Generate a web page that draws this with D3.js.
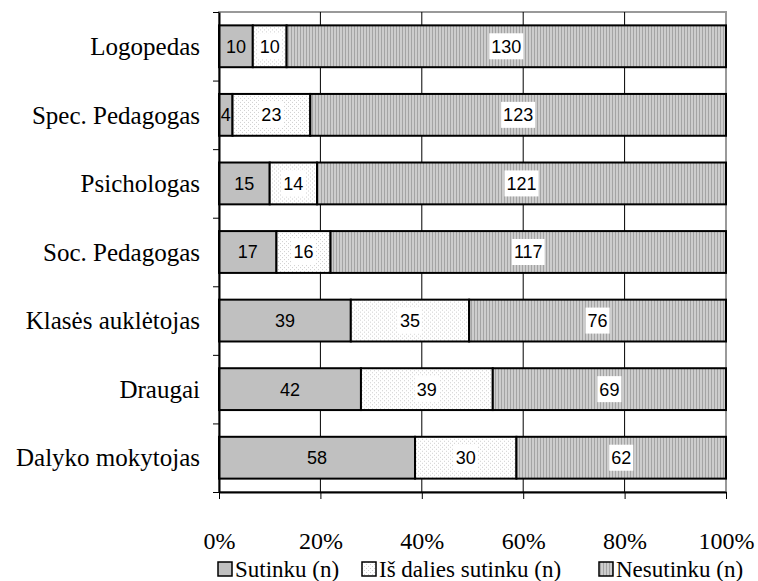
<!DOCTYPE html>
<html>
<head>
<meta charset="utf-8">
<script src="https://cdn.jsdelivr.net/npm/d3@7"></script>
<style>
  body { margin: 0; background: #fff; }
  svg { display: block; }
</style>
</head>
<body>
<div id="chart"></div>
<script>
const categories = ["Logopedas", "Spec. Pedagogas", "Psichologas", "Soc. Pedagogas", "Klasės auklėtojas", "Draugai", "Dalyko mokytojas"]
const sutinku = [10, 4, 15, 17, 39, 42, 58]
const isDalies = [10, 23, 14, 16, 35, 39, 30]
const nesutinku = [130, 123, 121, 117, 76, 69, 62]
const seriesNames = ["Sutinku (n)", "Iš dalies sutinku (n)", "Nesutinku (n)"]
const xTicks = [0, 0.2, 0.4, 0.6, 0.8, 1]

const width = 758, height = 581
const plotLeft = 219, plotRight = 726, plotTop = 12, plotBottom = 492

var svg = d3.select("#chart").append("svg")
    .attr("width", width)
    .attr("height", height)

// patterns
var defs = svg.append("defs")
var dots = defs.append("pattern").attr("id", "dots")
    .attr("patternUnits", "userSpaceOnUse").attr("width", 4).attr("height", 4)
dots.append("rect").attr("width", 4).attr("height", 4).attr("fill", "#fff")
dots.append("rect").attr("x", 0).attr("y", 0).attr("width", 1).attr("height", 1).attr("fill", "#cfcfcf")
dots.append("rect").attr("x", 2).attr("y", 2).attr("width", 1).attr("height", 1).attr("fill", "#cfcfcf")

var stripes = defs.append("pattern").attr("id", "stripes")
    .attr("patternUnits", "userSpaceOnUse").attr("width", 3).attr("height", 4)
stripes.append("rect").attr("width", 3).attr("height", 4).attr("fill", "#cdcdcd")
stripes.append("rect").attr("width", 1).attr("height", 4).attr("fill", "#a4a4a4")

const fills = ["#c0c0c0", "url(#dots)", "url(#stripes)"]

// data
var rows = categories.map((c, i) => {
  let total = sutinku[i] + isDalies[i] + nesutinku[i]
  let vals = [sutinku[i], isDalies[i], nesutinku[i]]
  let acc = 0
  return {
    cat: c,
    segs: vals.map((v, k) => {
      let s = { k: k, v: v, x0: acc / total, x1: (acc + v) / total }
      acc += v
      return s
    })
  }
})

var x = d3.scaleLinear().domain([0, 1]).range([plotLeft, plotRight])
var y = d3.scaleBand().domain(categories).range([plotTop, plotBottom])
    .paddingInner(0.39).paddingOuter(0.195)
var yEdge = d3.scaleLinear().domain([0, categories.length]).range([plotTop, plotBottom])

// plot border (gray)
svg.append("rect")
    .attr("x", plotLeft).attr("y", plotTop)
    .attr("width", plotRight - plotLeft).attr("height", plotBottom - plotTop)
    .attr("fill", "none").attr("stroke", "#999").attr("stroke-width", 2)

// gridlines
svg.append("g").selectAll("line").data([0.2, 0.4, 0.6, 0.8]).enter()
  .append("line")
    .attr("x1", d => x(d)).attr("x2", d => x(d))
    .attr("y1", plotTop).attr("y2", plotBottom)
    .attr("stroke", "#000").attr("stroke-width", 1)

// bars
var row = svg.append("g").selectAll("g").data(rows).enter()
  .append("g")
    .attr("transform", d => "translate(0," + y(d.cat) + ")")

row.selectAll("rect").data(d => d.segs).enter()
  .append("rect")
    .attr("x", d => x(d.x0))
    .attr("y", 0)
    .attr("width", d => x(d.x1) - x(d.x0))
    .attr("height", y.bandwidth())
    .attr("fill", d => fills[d.k])
    .attr("stroke", "#000")
    .attr("stroke-width", 2)

// value labels
var lab = row.selectAll("g.lab").data(d => d.segs).enter()
  .append("g").attr("class", "lab")
    .attr("transform", d => "translate(" + (x(d.x0) + x(d.x1)) / 2 + "," + (y.bandwidth() / 2) + ")")

lab.append("text")
    .attr("text-anchor", "middle")
    .attr("dy", "0.36em")
    .style("font-family", "'Liberation Sans', Arial, sans-serif")
    .style("font-size", "18px")
    .attr("fill", "#000")
    .text(d => d.v)

lab.each(function(d) {
  if (d.k === 0) return
  let g = d3.select(this)
  let bb = g.select("text").node().getBBox()
  g.insert("rect", "text")
    .attr("x", bb.x - 2).attr("y", -13)
    .attr("width", bb.width + 4).attr("height", 26)
    .attr("fill", "#fff")
})

// y axis
var yAxis = svg.append("g")
    .attr("transform", "translate(" + plotLeft + ",0)")
    .call(d3.axisLeft(yEdge).tickValues(d3.range(categories.length + 1)).tickFormat("").tickSize(6).tickSizeOuter(0))
yAxis.select(".domain").attr("stroke-width", 2)

svg.append("g").selectAll("text").data(categories).enter()
  .append("text")
    .attr("x", 200)
    .attr("y", d => y(d) + y.bandwidth() / 2)
    .attr("dy", "0.35em")
    .attr("text-anchor", "end")
    .style("font-family", "'Liberation Serif', 'Times New Roman', serif")
    .style("font-size", "25px")
    .text(d => d)

// x axis
var xAxis = svg.append("g")
    .attr("transform", "translate(0," + plotBottom + ")")
    .call(d3.axisBottom(x).tickValues(xTicks).tickFormat(d3.format(".0%")).tickSize(7).tickSizeOuter(0).tickPadding(33))
xAxis.select(".domain").attr("stroke-width", 2)
xAxis.selectAll("text")
    .style("font-family", "'Liberation Serif', 'Times New Roman', serif")
    .style("font-size", "24px")
    .attr("fill", "#000")

// legend
var legend = svg.append("g").attr("transform", "translate(0,570)")
var legendX = [218, 362, 599]
seriesNames.forEach((name, k) => {
  legend.append("rect")
      .attr("x", legendX[k]).attr("y", -8)
      .attr("width", 14).attr("height", 14)
      .attr("fill", fills[k]).attr("stroke", "#000").attr("stroke-width", 1.5)
  legend.append("text")
      .attr("x", legendX[k] + 17).attr("y", 0)
      .attr("dy", "0.32em")
      .style("font-family", "'Liberation Serif', 'Times New Roman', serif")
      .style("font-size", "23px")
      .text(name)
})
</script>
</body>
</html>
